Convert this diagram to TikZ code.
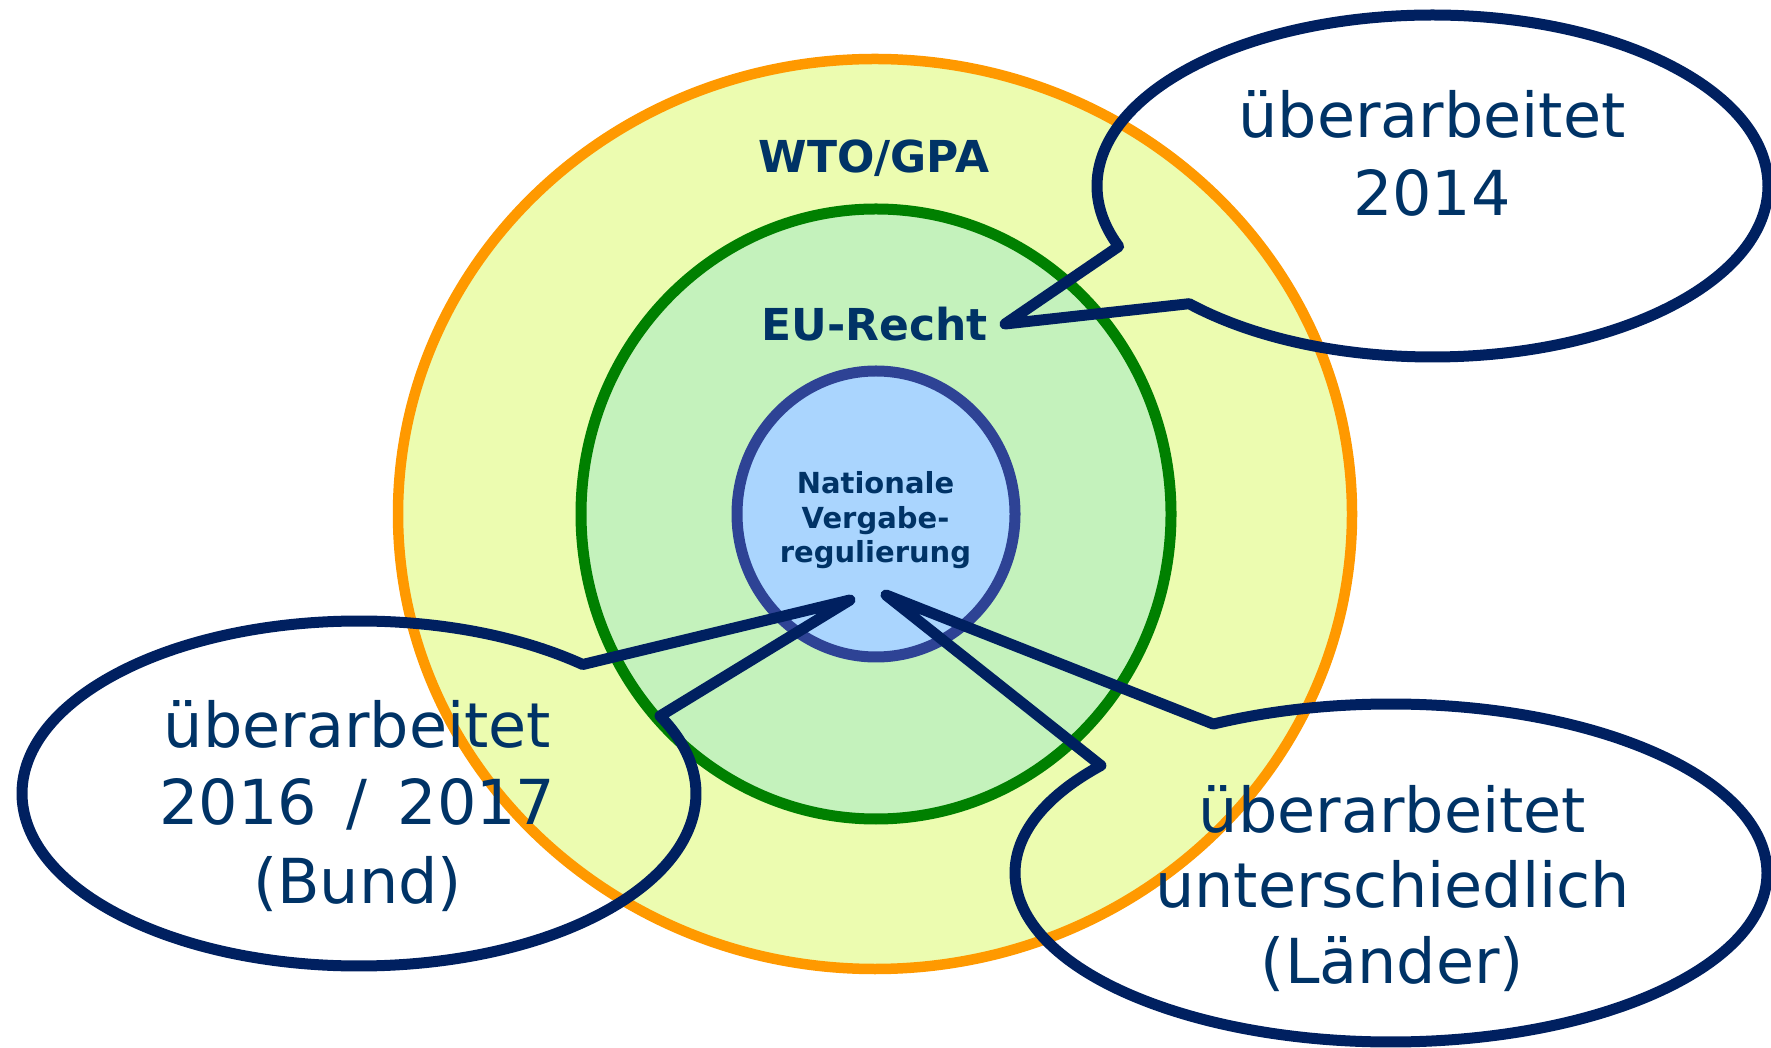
\documentclass[tikz,border=0pt]{standalone}
\usepackage{fontspec}
\setmainfont{DejaVu Sans}
\definecolor{corange}{HTML}{FF9900}
\definecolor{cyellow}{HTML}{ECFCB0}
\definecolor{cgreen}{HTML}{008000}
\definecolor{cgreenfill}{HTML}{C4F2BC}
\definecolor{cblue}{HTML}{2E4395}
\definecolor{cbluefill}{HTML}{AAD5FE}
\definecolor{ctext}{HTML}{003366}
\definecolor{cnavy}{HTML}{002060}
\tikzset{
  callout/.style={draw=cnavy, line width=11pt, line join=round},
  lbl/.style={text=ctext, anchor=base, inner sep=0pt, font=\bfseries\fontsize{44}{50}\selectfont},
  smalllbl/.style={text=ctext, anchor=base, inner sep=0pt, font=\bfseries\fontsize{29}{34}\selectfont},
  bigtxt/.style={text=ctext, anchor=base, inner sep=0pt, font=\fontsize{62}{78}\selectfont}
}
\begin{document}
\begin{tikzpicture}[x=1pt,y=1pt]
\useasboundingbox (0,0) rectangle (1771,1047);
% rings
\coordinate (ctr) at (875,533);
\filldraw[draw=corange, fill=cyellow, line width=10.5pt] (ctr) ellipse [x radius=477pt, y radius=455pt];
\filldraw[draw=cgreen, fill=cgreenfill, line width=11pt] (876,533) ellipse [x radius=295pt, y radius=305pt];
\filldraw[draw=cblue, fill=cbluefill, line width=11pt] (876,533) ellipse [x radius=139pt, y radius=143pt];
% labels
\node[lbl] (wto) at (874,874) {WTO/GPA};
\node[lbl] (eu) at (874.5,706) {EU-Recht};
\node[smalllbl] (nat1) at (875.5,553) {Nationale};
\node[smalllbl] (nat2) at (875.5,518) {Vergabe-};
\node[smalllbl] (nat3) at (875.5,484) {regulierung};
% callout texts
\node[bigtxt] (tr1) at (1432,909) {überarbeitet};
\node[bigtxt] (tr2) at (1432,831) {2014};
\node[bigtxt] (bl1) at (357.5,299) {überarbeitet};
\node[bigtxt] (bl2) at (357.5,222.5) {2016\hspace{10pt} /\hspace{10pt} 2017};
\node[bigtxt] (bl3) at (357.5,143.5) {(Bund)};
\node[bigtxt] (br1) at (1392.5,215) {überarbeitet};
\node[bigtxt] (br2) at (1392.5,140) {unterschiedlich};
\node[bigtxt] (br3) at (1392.5,64) {(Länder)};
% callouts
\coordinate (trc) at (1432.5,861);
\coordinate (tipA) at (1005,723);
\draw[callout] (trc) ++(223.5:335.5pt and 171pt) arc[start angle=223.5, end angle=560.7, x radius=335.5pt, y radius=171pt] -- (tipA) -- cycle;
\coordinate (blc) at (359,253.5);
\coordinate (tipB) at (850,447);
\draw[callout] (blc) ++(48.4:337pt and 172.5pt) arc[start angle=48.4, end angle=386.7, x radius=337pt, y radius=172.5pt] -- (tipB) -- cycle;
\coordinate (brc) at (1391,174);
\coordinate (tipC) at (886,452);
\draw[callout] (brc) ++(140.5:376pt and 169pt) arc[start angle=140.5, end angle=478.2, x radius=376pt, y radius=169pt] -- (tipC) -- cycle;
\end{tikzpicture}
\end{document}
